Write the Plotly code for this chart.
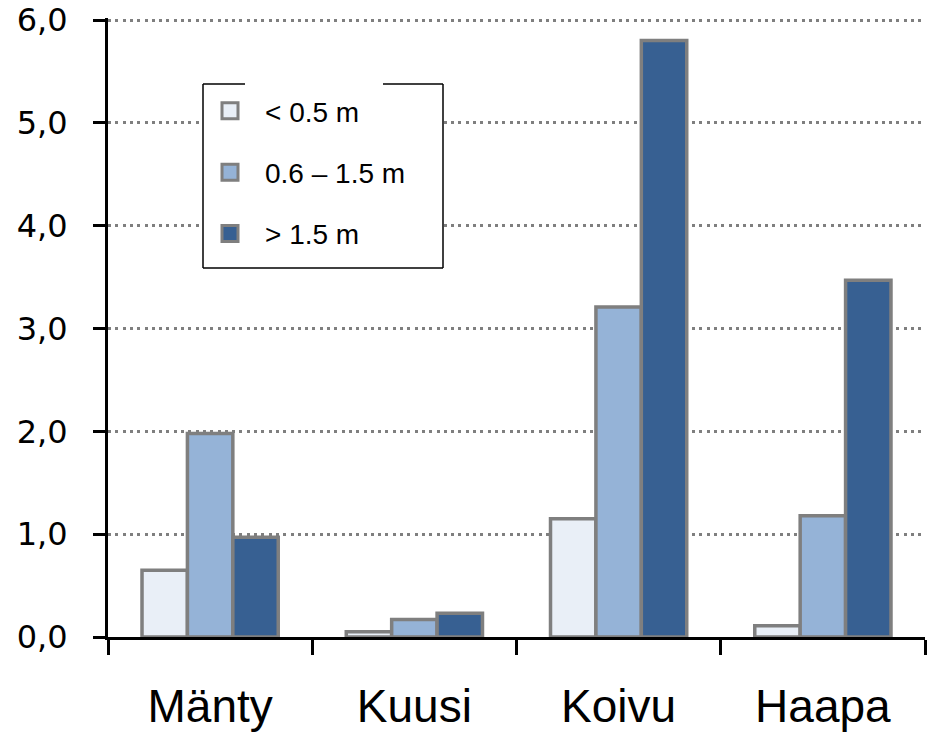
import plotly.graph_objects as go

categories = ["Mänty", "Kuusi", "Koivu", "Haapa"]
series_names = ["< 0.5 m", "0.6 – 1.5 m", "> 1.5 m"]
small = [0.65, 0.05, 1.15, 0.11]
medium = [1.98, 0.17, 3.21, 1.18]
large = [0.97, 0.23, 5.80, 3.47]
y_tick_vals = [0, 1, 2, 3, 4, 5, 6]

colors = ["#E9EFF7", "#95B3D7", "#376092"]
edge = "#7F7F7F"

# page has an 8px body margin; figure sized to fit the 938x741 window
OFF = 8
W, H = 938 - 2 * OFF, 741 - 2 * OFF
Y_TOP = 6.02  # small headroom so the 6,0 gridline is drawn
# plot area in page pixels: x 108..925, y(6.0)=20 .. y(0)=637
ppu = (637 - 20) / 6.0
top_page = 637 - Y_TOP * ppu
ML, MT = 108 - OFF, top_page - OFF
MR = W - (925 - OFF)
MB = H - (637 - OFF)
PW, PH = W - ML - MR, H - MT - MB


def px_x(p):  # page pixel -> paper
    return (p - OFF - ML) / PW


def px_y(p):
    return (H - MB - (p - OFF)) / PH


fig = go.Figure()
for name, vals, col in zip(series_names, [small, medium, large], colors):
    fig.add_trace(go.Bar(
        x=categories, y=vals, name=name, showlegend=False,
        marker=dict(color=col, line=dict(color=edge, width=3.5)),
    ))
# legend entries
for i, (name, col) in enumerate(zip(series_names, colors)):
    fig.add_trace(go.Scatter(
        x=[None], y=[None], mode="markers", name=name, legendgroup=f"g{i}",
        marker=dict(symbol="square", size=18, color=col, line=dict(color=edge, width=3)),
    ))

lx0, lx1, ly0, ly1 = 203, 443, 84, 268
shapes = [
    dict(type="rect", xref="paper", yref="paper", x0=px_x(lx0), x1=px_x(lx1),
         y0=px_y(ly1), y1=px_y(ly0), fillcolor="white", line=dict(width=0), layer="above"),
]
segs = [
    (lx0, ly0, lx0, ly1), (lx0, ly1, lx1, ly1), (lx1, ly1, lx1, ly0),
    (lx0, ly0, 245, ly0), (383, ly0, lx1, ly0),
]
for a, b, c, d in segs:
    shapes.append(dict(type="line", xref="paper", yref="paper", x0=px_x(a), y0=px_y(b),
                       x1=px_x(c), y1=px_y(d), line=dict(color="black", width=1.5), layer="above"))

fig.update_layout(
    width=W, height=H,
    margin=dict(l=ML, r=MR, t=MT, b=MB, autoexpand=False),
    paper_bgcolor="white", plot_bgcolor="white",
    barmode="group", bargap=0.333, bargroupgap=0,
    separators=",.",
    showlegend=True,
    legend=dict(
        x=px_x(lx0 - 8), y=px_y(ly0 + 2), xanchor="left", yanchor="top",
        bgcolor="rgba(0,0,0,0)", borderwidth=0,
        font=dict(family="Liberation Sans, Arial", size=28, color="black"),
        tracegroupgap=22, itemwidth=60, itemsizing="trace",
    ),
    shapes=shapes,
)
fig.update_xaxes(
    type="category", range=[-0.5, 3.5],
    showline=True, linecolor="black", linewidth=3,
    ticks="outside", tickson="boundaries", ticklen=15, tickwidth=3, tickcolor="black",
    tickfont=dict(family="Liberation Sans, Arial", size=46, color="black"),
    ticklabelstandoff=27, showgrid=False, zeroline=False,
)
fig.update_yaxes(
    range=[0, Y_TOP], tickvals=y_tick_vals, tickformat=".1f",
    showline=True, linecolor="black", linewidth=3,
    ticks="outside", ticklen=12, tickwidth=3, tickcolor="black",
    tickfont=dict(family="DejaVu Sans", size=32, color="black"),
    ticklabelstandoff=19, ticklabeloverflow="allow",
    showgrid=True, gridcolor="#7F7F7F", gridwidth=3, griddash="3px,4.3px",
    zeroline=False,
)

fig.write_html("out.html")
